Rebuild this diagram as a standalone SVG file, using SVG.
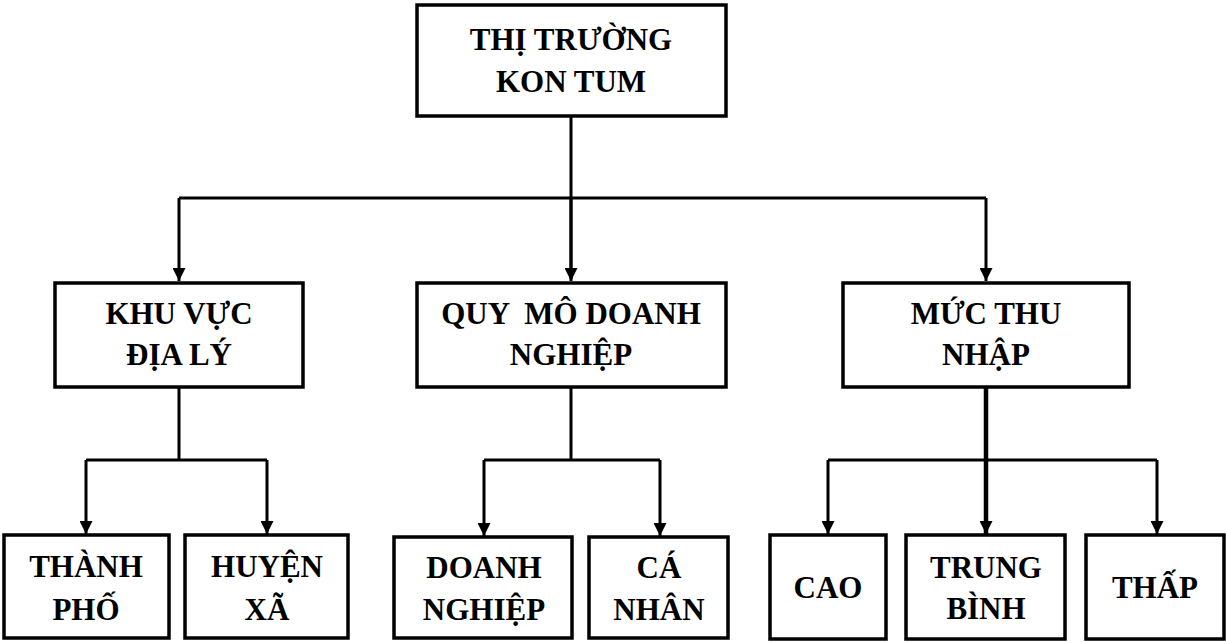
<svg xmlns="http://www.w3.org/2000/svg" width="1226" height="642" viewBox="0 0 1226 642">
<style>
.box{fill:#fff;stroke:#000;stroke-width:3.5}
.t{font-family:"Liberation Serif","Times New Roman",serif;font-weight:bold;font-size:31px;fill:#000;text-anchor:middle}
.c{fill:none;stroke:#000;stroke-width:3}
</style>
<defs>
<marker id="ah" viewBox="0 0 13 13" refX="13" refY="6.5" markerWidth="13" markerHeight="13" markerUnits="userSpaceOnUse" orient="auto">
<path d="M0,0 L13,6.5 L0,13 Z" fill="#000"/>
</marker>
</defs>
<g id="connectors">
<path class="c" d="M571,116 V279"/>
<path class="c" d="M179,198 H986"/>
<path class="c" d="M179,198 V281" marker-end="url(#ah)"/>
<path class="c" d="M571,198 V281" marker-end="url(#ah)"/>
<path class="c" d="M986,198 V281" marker-end="url(#ah)"/>
<path class="c" d="M179,387 V460"/>
<path class="c" d="M86,460 H267"/>
<path class="c" d="M86,460 V534" marker-end="url(#ah)"/>
<path class="c" d="M267,460 V534" marker-end="url(#ah)"/>
<path class="c" d="M571,387 V460"/>
<path class="c" d="M484,460 H660"/>
<path class="c" d="M484,460 V536" marker-end="url(#ah)"/>
<path class="c" d="M660,460 V536" marker-end="url(#ah)"/>
<path class="c" d="M986,387 V534" style="stroke-width:4.5" marker-end="url(#ah)"/>
<path class="c" d="M828,460 H1157"/>
<path class="c" d="M828,460 V534" marker-end="url(#ah)"/>
<path class="c" d="M1157,460 V534" marker-end="url(#ah)"/>
</g>
<g id="n-root">
<rect class="box" x="417" y="5" width="309" height="111"/>
<text class="t" x="571" y="50">THỊ TRƯỜNG</text>
<text class="t" x="571" y="92">KON TUM</text>
</g>
<g id="n-khuvuc">
<rect class="box" x="55" y="283" width="248" height="104"/>
<text class="t" x="179" y="324">KHU VỰC</text>
<text class="t" x="179" y="365">ĐỊA LÝ</text>
</g>
<g id="n-quymo">
<rect class="box" x="417" y="283" width="309" height="104"/>
<text class="t" x="571" y="324" xml:space="preserve">QUY  MÔ DOANH</text>
<text class="t" x="571" y="365">NGHIỆP</text>
</g>
<g id="n-mucthu">
<rect class="box" x="843" y="283" width="286" height="104"/>
<text class="t" x="986" y="324">MỨC THU</text>
<text class="t" x="986" y="365">NHẬP</text>
</g>
<g id="n-thanhpho">
<rect class="box" x="4" y="535" width="165" height="103"/>
<text class="t" x="86" y="577">THÀNH</text>
<text class="t" x="86" y="620">PHỐ</text>
</g>
<g id="n-huyenxa">
<rect class="box" x="185" y="535" width="163" height="103"/>
<text class="t" x="267" y="577">HUYỆN</text>
<text class="t" x="267" y="620">XÃ</text>
</g>
<g id="n-doanhnghiep">
<rect class="box" x="394" y="537" width="178" height="101"/>
<text class="t" x="484" y="578">DOANH</text>
<text class="t" x="484" y="620">NGHIỆP</text>
</g>
<g id="n-canhan">
<rect class="box" x="589" y="537" width="139" height="101"/>
<text class="t" x="659" y="578">CÁ</text>
<text class="t" x="659" y="620">NHÂN</text>
</g>
<g id="n-cao">
<rect class="box" x="770" y="535" width="116" height="104"/>
<text class="t" x="828" y="598">CAO</text>
</g>
<g id="n-trungbinh">
<rect class="box" x="906" y="535" width="159" height="104"/>
<text class="t" x="986" y="578">TRUNG</text>
<text class="t" x="986" y="619">BÌNH</text>
</g>
<g id="n-thap">
<rect class="box" x="1086" y="535" width="138" height="104"/>
<text class="t" x="1155" y="598">THẤP</text>
</g>
</svg>
